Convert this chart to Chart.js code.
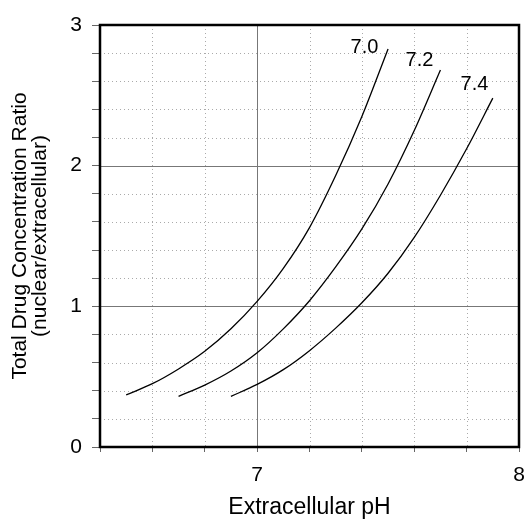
<!DOCTYPE html>
<html>
<head>
<meta charset="utf-8">
<script src="https://cdn.jsdelivr.net/npm/chart.js@4.4.1/dist/chart.umd.min.js"></script>
<style>
    html, body { margin: 0; padding: 0; background: #fff; }
    #wrap { width: 526px; height: 525px; }
</style>
</head>
<body>
<div id="wrap"><canvas id="chart" width="526" height="525"></canvas></div>
<script>
// values
const pH70X = [6.5, 6.6, 6.7, 6.8, 6.9, 7.0, 7.1, 7.2, 7.3, 7.4, 7.5];
const pH70Y = [0.37, 0.45, 0.555, 0.68, 0.84, 1.035, 1.27, 1.56, 1.93, 2.35, 2.83];

const pH72X = [6.7, 6.8, 6.9, 7.0, 7.1, 7.2, 7.3, 7.4, 7.5, 7.6, 7.7];
const pH72Y = [0.36, 0.44, 0.54, 0.67, 0.84, 1.04, 1.28, 1.55, 1.87, 2.25, 2.68];

const pH74X = [6.9, 7.0, 7.1, 7.2, 7.3, 7.4, 7.5, 7.6, 7.7, 7.8, 7.9];
const pH74Y = [0.36, 0.445, 0.55, 0.685, 0.845, 1.025, 1.235, 1.49, 1.79, 2.12, 2.48];

const curveNames = ['7.0', '7.2', '7.4'];
// where each curve name sits, in data units (pH, ratio)
const nameX = [7.41, 7.62, 7.83];
const nameY = [2.84, 2.75, 2.575];

const xTicks = ['7', '8'];
const yTicks = ['0', '1', '2', '3'];

const FONT = "'Liberation Sans', Arial, sans-serif";

function toPoints(xs, ys) {
    return xs.map((x, i) => ({ x: x, y: ys[i] }));
}

function isMajor(v) {
    return Math.abs(v - Math.round(v)) < 1e-6;
}

// grid lines inside the plot: solid at whole numbers, dotted between
const gridPlugin = {
    id: 'gridLines',
    beforeDatasetsDraw(chart) {
        const ctx = chart.ctx;
        const a = chart.chartArea;
        const xs = chart.scales.x, ys = chart.scales.y;
        ctx.save();
        ctx.lineWidth = 1;
        xs.ticks.forEach(t => {
            const px = Math.round(xs.getPixelForValue(t.value)) + 0.5;
            ctx.strokeStyle = isMajor(t.value) ? '#777' : '#aaa';
            ctx.setLineDash(isMajor(t.value) ? [] : [1, 3]);
            ctx.beginPath();
            ctx.moveTo(px, a.top);
            ctx.lineTo(px, a.bottom);
            ctx.stroke();
        });
        ys.ticks.forEach(t => {
            const py = Math.round(ys.getPixelForValue(t.value)) + 0.5;
            ctx.strokeStyle = isMajor(t.value) ? '#777' : '#aaa';
            ctx.setLineDash(isMajor(t.value) ? [] : [1, 3]);
            ctx.beginPath();
            ctx.moveTo(a.left, py);
            ctx.lineTo(a.right, py);
            ctx.stroke();
        });
        ctx.restore();
    },
    afterDatasetsDraw(chart) {
        const ctx = chart.ctx;
        const a = chart.chartArea;
        const xs = chart.scales.x, ys = chart.scales.y;
        ctx.save();
        // frame
        ctx.strokeStyle = '#000';
        ctx.lineWidth = 2.5;
        ctx.strokeRect(a.left, a.top, a.right - a.left, a.bottom - a.top);
        // curve names
        ctx.fillStyle = '#000';
        ctx.font = '20px ' + FONT;
        ctx.textAlign = 'center';
        ctx.textBaseline = 'middle';
        curveNames.forEach((n, i) => {
            ctx.fillText(n, xs.getPixelForValue(nameX[i]), ys.getPixelForValue(nameY[i]));
        });
        ctx.restore();
    }
};

const lineStyle = {
    borderColor: '#000',
    borderWidth: 1.3,
    pointRadius: 0,
    fill: false,
    cubicInterpolationMode: 'monotone'
};

new Chart(document.getElementById('chart').getContext('2d'), {
    type: 'line',
    data: {
        datasets: [
            Object.assign({ label: curveNames[0], data: toPoints(pH70X, pH70Y) }, lineStyle),
            Object.assign({ label: curveNames[1], data: toPoints(pH72X, pH72Y) }, lineStyle),
            Object.assign({ label: curveNames[2], data: toPoints(pH74X, pH74Y) }, lineStyle)
        ]
    },
    options: {
        responsive: false,
        animation: false,
        layout: { padding: { top: 25, right: 7, left: 0, bottom: 0 } },
        plugins: {
            legend: { display: false },
            tooltip: { enabled: false }
        },
        scales: {
            x: {
                type: 'linear',
                min: 6.4,
                max: 8,
                afterFit: s => { s.height = 78; s.paddingLeft = 0; s.paddingRight = 0; },
                ticks: {
                    stepSize: 0.2,
                    autoSkip: false,
                    maxRotation: 0,
                    padding: 11,
                    color: '#000',
                    font: { family: FONT, size: 21 },
                    callback: v => {
                        const r = Math.round(v);
                        return isMajor(v) && xTicks.includes(String(r)) ? String(r) : '';
                    }
                },
                grid: { drawOnChartArea: false, drawTicks: true, tickLength: 5, tickColor: '#666' },
                border: { display: false },
                title: {
                    display: true,
                    text: 'Extracellular pH',
                    color: '#000',
                    font: { family: FONT, size: 23 },
                    padding: { top: 15 }
                }
            },
            y: {
                type: 'linear',
                min: 0,
                max: 3,
                afterFit: s => { s.width = 100; s.paddingTop = 0; s.paddingBottom = 0; },
                ticks: {
                    stepSize: 0.2,
                    autoSkip: false,
                    padding: 10,
                    color: '#000',
                    font: { family: FONT, size: 21 },
                    callback: v => {
                        const r = Math.round(v);
                        return isMajor(v) && yTicks.includes(String(r)) ? String(r) : '';
                    }
                },
                grid: { drawOnChartArea: false, drawTicks: true, tickLength: 8, tickColor: '#666' },
                border: { display: false },
                title: {
                    display: true,
                    text: ['Total Drug Concentration Ratio', '(nuclear/extracellular)'],
                    color: '#000',
                    font: { family: FONT, size: 21, lineHeight: 0.95 },
                    padding: { top: 10, bottom: 0 }
                }
            }
        }
    },
    plugins: [gridPlugin]
});
</script>
</body>
</html>
